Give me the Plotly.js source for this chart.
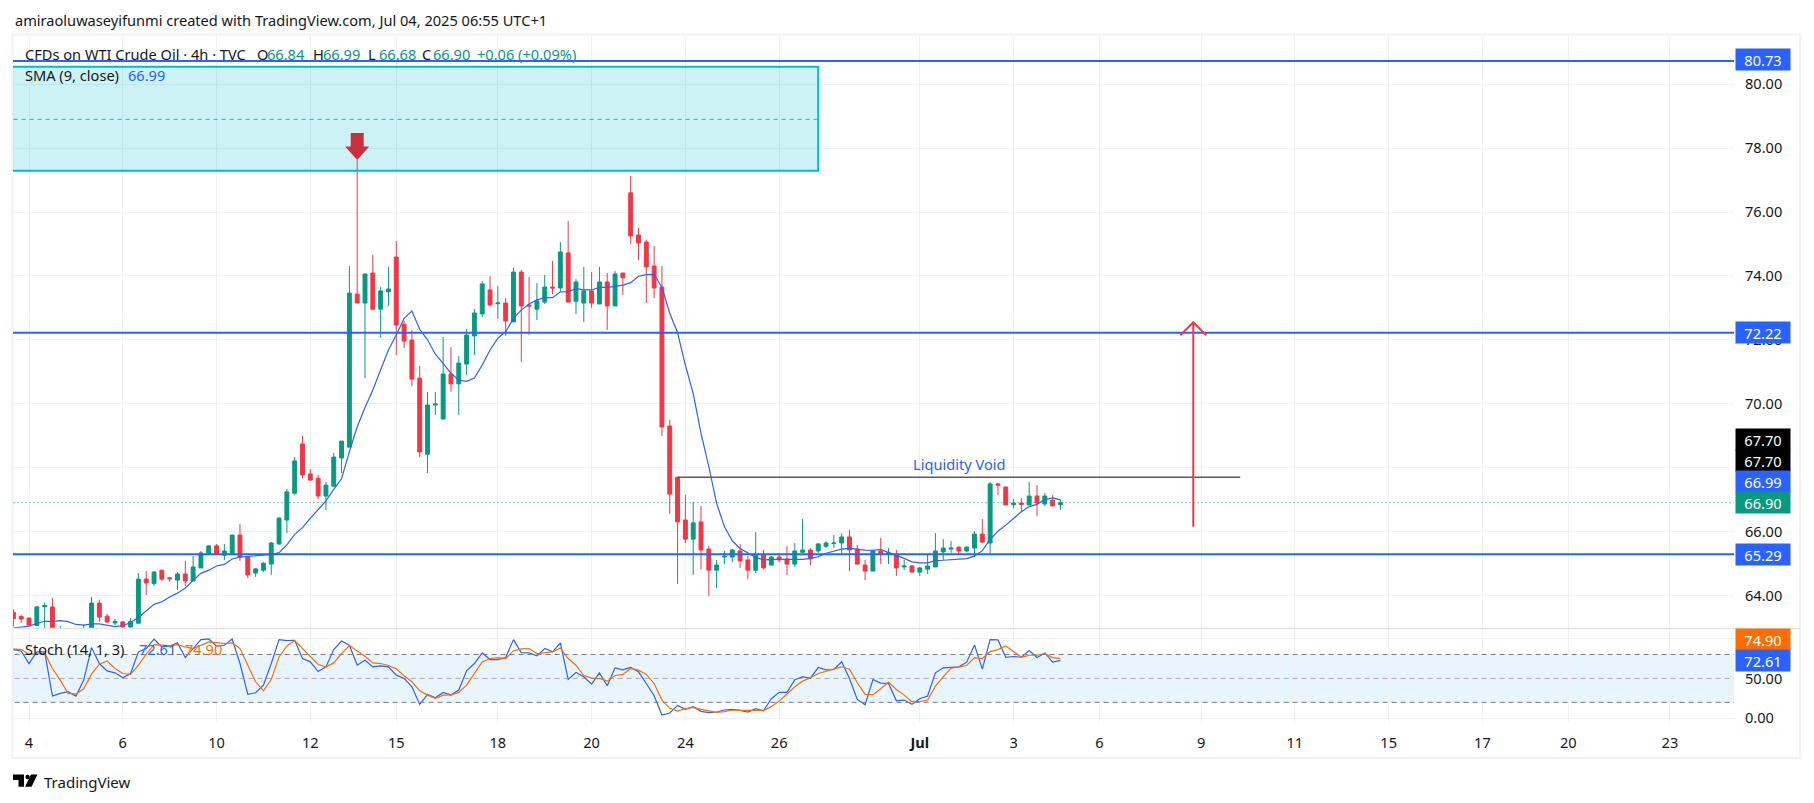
<!DOCTYPE html>
<html><head><meta charset="utf-8">
<script src="https://cdn.plot.ly/plotly-3.0.1.min.js"></script>
<style>html,body{margin:0;padding:0;background:#fff}#c{width:1814px;height:803px}</style></head>
<body><div id="c"></div>
<script>
const openP=[63.47,63.34,63.29,63.06,63.65,63.64,62.80,62.75,62.70,62.80,
62.85,63.76,63.35,63.14,63.17,63.01,63.13,64.51,64.37,64.79,
64.55,64.48,64.67,64.45,64.86,65.30,65.55,65.26,65.30,65.89,
65.20,64.70,64.79,64.98,65.61,66.36,67.20,68.74,67.80,67.67,
67.11,67.42,68.30,68.64,73.43,73.15,74.09,72.96,73.50,74.59,
72.49,71.99,70.80,68.42,69.96,69.52,70.93,70.62,71.24,72.12,
72.81,73.56,73.13,73.15,72.56,74.12,73.09,72.96,73.18,73.65,
73.62,74.72,73.21,73.15,73.53,73.12,73.81,73.06,74.09,76.60,
75.28,75.06,74.31,73.65,69.30,67.70,66.36,65.76,66.30,65.45,
64.79,65.20,65.20,65.39,65.11,64.79,65.26,64.95,65.20,65.14,
64.98,65.35,65.42,65.39,65.54,65.62,65.64,65.83,65.45,64.95,
64.76,65.39,65.29,65.29,64.89,64.92,64.73,64.82,64.89,65.36,
65.45,65.51,65.39,65.48,65.92,65.64,67.49,67.39,66.84,66.89,
66.83,67.11,66.86,66.98,66.84];
const highP=[63.57,63.39,63.31,63.67,63.78,63.91,63.04,62.85,62.85,63.09,
63.95,63.87,63.42,63.26,63.19,63.29,64.70,64.76,64.76,64.79,
64.57,64.73,65.08,65.23,65.39,65.58,65.61,65.61,65.89,66.23,
65.23,64.86,65.04,65.67,66.45,67.33,68.33,68.99,67.96,67.77,
67.55,68.46,68.83,74.31,77.63,74.06,74.66,73.65,74.28,75.09,
72.59,72.31,71.18,70.37,70.37,72.09,71.77,71.49,72.34,72.97,
73.84,74.00,73.68,73.31,74.25,74.19,73.97,73.78,74.03,74.47,
75.06,75.72,73.90,74.28,74.12,74.28,74.09,74.15,74.09,77.13,
75.50,75.13,74.94,74.31,69.49,67.70,67.14,66.92,66.80,65.55,
65.11,65.39,65.45,65.61,65.23,65.98,65.42,65.23,65.32,65.54,
65.64,66.39,65.48,65.64,65.70,65.89,65.95,66.05,65.58,65.11,
65.42,65.80,65.48,65.42,65.11,64.95,64.89,65.29,65.95,65.76,
65.70,65.54,65.54,66.01,66.39,67.55,67.52,67.42,67.02,67.05,
67.55,67.45,67.20,67.14,66.99];
const lowP=[63.02,63.14,63.05,63.04,62.90,62.70,62.70,62.60,62.55,62.70,
62.80,63.17,63.14,63.07,62.98,62.98,63.13,64.01,64.29,64.45,
64.42,64.17,64.29,64.45,64.86,65.30,65.26,65.11,65.30,65.08,
64.54,64.58,64.73,64.64,65.58,65.95,67.14,67.67,67.58,67.02,
66.67,67.42,67.83,68.64,73.15,70.80,72.93,72.06,73.06,71.52,
71.74,70.55,68.33,67.83,69.65,69.52,70.37,69.65,70.90,71.52,
72.71,73.03,72.65,72.12,72.56,71.31,72.15,72.62,73.12,73.43,
73.53,73.18,72.81,72.56,73.00,73.12,72.31,73.06,73.40,75.00,
74.50,73.15,73.31,68.99,66.55,64.36,65.64,64.64,64.82,63.98,
64.23,64.98,65.04,64.86,64.51,64.70,64.82,64.92,65.04,64.64,
64.89,65.33,64.95,65.33,65.48,65.48,65.29,64.76,64.98,64.48,
64.76,64.98,64.98,64.61,64.79,64.73,64.61,64.67,64.89,65.11,
65.33,65.29,65.36,65.20,65.64,65.33,67.14,66.83,66.73,66.61,
66.83,66.48,66.80,66.80,66.68];
const closeP=[63.27,63.26,63.07,63.64,63.68,62.85,62.90,62.70,62.80,62.90,
63.76,63.32,63.17,63.18,63.01,63.18,64.51,64.39,64.73,64.51,
64.52,64.67,64.45,64.89,65.33,65.55,65.30,65.39,65.89,65.20,
64.64,64.83,65.01,65.64,66.42,67.24,68.21,67.77,67.61,67.11,
67.45,68.33,68.83,73.46,73.15,74.06,72.96,73.53,73.59,72.46,
71.96,70.77,68.49,69.96,69.99,70.93,70.62,71.27,72.15,72.84,
73.75,73.09,73.15,72.59,74.12,73.06,73.06,73.22,73.65,73.62,
74.75,73.18,73.81,73.53,73.15,73.81,73.06,74.06,73.94,75.25,
75.03,74.28,73.62,69.27,67.17,66.30,65.76,66.27,65.42,64.79,
64.95,65.23,65.42,65.08,64.79,65.26,64.86,65.20,65.11,64.98,
65.39,65.42,65.14,65.61,65.64,65.64,65.83,65.42,64.98,64.76,
65.39,65.29,65.33,64.86,64.92,64.73,64.86,64.92,65.39,65.48,
65.48,65.39,65.51,65.92,65.67,67.49,67.45,66.83,66.89,66.85,
67.11,66.89,67.11,66.80,66.90];
const smaV=[62.98,63.02,63.04,63.12,63.19,63.19,63.21,63.18,63.09,63.07,
63.11,63.11,63.07,63.02,63.05,63.15,63.31,63.52,63.72,63.80,
63.95,64.07,64.23,64.47,64.69,64.79,64.92,64.97,65.14,65.20,
65.22,65.24,65.26,65.28,65.34,65.58,65.91,66.12,66.41,66.70,
66.96,67.32,67.65,68.50,69.28,69.88,70.43,71.06,71.68,72.15,
72.67,72.90,72.33,72.00,71.55,71.26,70.95,70.74,70.70,70.80,
71.21,71.68,72.05,72.25,72.67,72.93,73.12,73.25,73.32,73.32,
73.50,73.51,73.60,73.56,73.56,73.64,73.64,73.67,73.71,73.79,
73.99,74.04,74.05,73.64,72.83,72.22,71.21,70.32,69.07,68.03,
66.88,66.15,65.71,65.47,65.32,65.19,65.11,65.13,65.13,65.13,
65.13,65.13,65.16,65.21,65.32,65.39,65.45,65.47,65.44,65.42,
65.41,65.44,65.34,65.26,65.16,65.05,65.02,65.02,65.09,65.10,
65.11,65.12,65.15,65.23,65.40,65.75,66.01,66.20,66.41,66.62,
66.78,66.85,67.00,67.05,66.99];
const stochK=[86.2,84.5,68.7,83.3,83.3,27.9,31.2,33.3,27.9,47.9,
88.7,68.7,59.5,57.0,50.8,56.2,83.3,87.5,99.2,89.5,
90.4,94.6,76.2,87.5,98.7,99.5,90.4,91.6,99.5,68.7,
30.0,32.0,41.6,68.7,98.7,97.5,97.9,75.0,70.8,58.7,
64.5,86.2,97.0,91.6,66.6,72.9,64.5,65.8,64.5,54.1,
50.0,39.5,17.4,30.0,25.8,32.5,29.1,35.4,59.5,68.7,
82.0,73.7,73.7,76.2,98.7,82.4,82.0,78.3,87.5,83.3,
94.6,48.7,57.5,52.0,42.9,57.0,40.8,63.3,60.8,63.7,
58.3,43.7,28.3,4.1,6.6,16.2,11.2,14.6,8.7,7.1,
7.9,10.4,11.2,10.0,7.9,12.1,9.5,24.5,32.5,32.5,
48.3,52.0,50.4,63.7,60.8,61.2,70.8,50.0,23.7,17.0,
48.7,44.1,43.7,22.0,22.9,17.5,24.5,27.9,57.1,63.3,
63.7,64.6,70.4,92.1,61.6,98.7,98.3,76.6,77.5,76.6,
85.0,76.2,82.0,70.4,72.61];
const stochD=[87.0,86.2,80.4,80.4,82.0,62.5,47.9,31.2,30.4,37.1,
55.4,67.9,72.0,62.5,56.2,55.0,66.6,80.4,92.5,91.6,
91.2,92.5,89.5,87.5,91.6,95.8,95.0,93.7,94.6,87.5,
66.6,45.8,34.5,48.7,77.0,90.8,97.5,87.5,77.9,67.5,
64.5,69.5,81.2,91.2,84.5,77.9,69.5,68.7,66.2,62.0,
53.3,45.8,34.5,29.1,25.0,29.1,29.5,32.5,41.6,55.4,
70.8,75.0,76.2,75.0,84.5,87.0,87.5,81.2,82.4,83.3,
88.3,75.0,66.6,53.7,50.4,50.0,46.6,53.7,55.0,62.5,
60.4,55.0,43.7,22.9,12.5,9.1,12.0,13.7,11.2,9.1,
7.5,8.3,10.4,10.0,10.0,10.0,10.0,14.6,21.6,30.4,
39.6,46.6,50.8,56.2,59.1,62.5,64.6,61.6,44.6,30.0,
29.6,37.0,45.4,36.2,29.1,20.8,20.8,22.9,40.4,52.0,
62.9,64.6,66.2,76.2,75.0,83.7,86.2,90.8,83.3,76.6,
79.1,79.1,81.2,76.2,74.9];
const barIdx=openP.map((_,i)=>i);
const tickBars=[2,14,26,38,49,62,74,86,98,116,128,139,152,164,176,188,199,212];
const tickLabels=['4','6','10','12','15','18','20','24','26','<b>Jul</b>','3','6','9','11','15','17','20','23'];
const priceTicks=[64,66,68,70,72,74,76,78,80];
const priceLabels=['64.00','66.00','','70.00','72.00','74.00','76.00','78.00','80.00'];
const stochTicks=[0,50,100];
const stochLabels=['0.00','50.00',''];
const levels=[80.73,72.22,65.29];
const lastPrice=66.90;
const voidLevel=67.70, voidFrom=85, voidTo=157;
const zoneTop=80.55, zoneBottom=77.29, zoneMid=78.90, zoneEnd=103;
const downArrowBar=44, downArrowTip=77.63, downArrowHead=78.05, downArrowTop=78.475;
const upArrowBar=151, upArrowFrom=66.15, upArrowTip=72.55, upArrowWing=72.14;
const BLUE='#2962ff',GREEN='#089981',RED='#f23645',ORANGE='#ff6d00',TXT='#131722',GRID='#f0f1f4';
const FONT='"Noto Sans", sans-serif';
const FS=14.6;
const L=13,R=1734,T=35,B=723;
const px=x=>(x-L)/(R-L), py=y=>(B-y)/(B-T);
const shapes=[];
const ln=(x0,x1,y,color,w,dash,yref)=>shapes.push({type:'line',xref:'x',yref:yref||'y',x0,x1,y0:y,y1:y,line:{color,width:w,dash:dash||'solid'}});
shapes.push({type:'rect',xref:'paper',yref:'paper',x0:px(12.5),x1:px(1800),y0:py(34.5),y1:py(758),line:{color:'#f1f2f4',width:2},layer:'below'});
shapes.push({type:'line',xref:'paper',yref:'paper',x0:px(13),x1:px(1800),y0:py(628.5),y1:py(628.5),line:{color:'#e0e3eb',width:1.5}});
shapes.push({type:'rect',xref:'x',yref:'y',x0:-1,x1:zoneEnd,y0:zoneBottom,y1:zoneTop,fillcolor:'rgba(0,188,212,0.2)',line:{color:'#00bcd4',width:2}});
ln(-1,zoneEnd,zoneMid,'#00bcd4',1,'4px,4px');
shapes.push({type:'rect',xref:'x',yref:'y2',x0:-1,x1:221,y0:20,y1:80,fillcolor:'rgba(33,150,243,0.1)',line:{width:0},layer:'below'});
ln(-1,221,80,'#787b86',1,'5px,4px','y2');
ln(-1,221,50,'rgba(120,123,134,0.6)',1,'5px,4px','y2');
ln(-1,221,20,'#787b86',1,'5px,4px','y2');
ln(-1,221,lastPrice,GREEN,1,'1px,3px');
levels.forEach(v=>ln(-1,221,v,BLUE,2));
ln(voidFrom,voidTo,voidLevel,'#5a5a5a',1.6);
const a=downArrowBar;
shapes.push({type:'path',xref:'x',yref:'y',path:`M${a-0.83},${downArrowTop} L${a+0.83},${downArrowTop} L${a+0.83},${downArrowHead} L${a+1.54},${downArrowHead} L${a},${downArrowTip} L${a-1.54},${downArrowHead} L${a-0.83},${downArrowHead} Z`,fillcolor:'#cc2f3c',line:{width:0}});
const u=upArrowBar;
shapes.push({type:'path',xref:'x',yref:'y',path:`M${u},${upArrowFrom} L${u},${upArrowTip} M${u-1.66},${upArrowWing} L${u},${upArrowTip} L${u+1.66},${upArrowWing}`,line:{color:RED,width:2}});
const P=(x,y)=>`${px(x)},${py(y)}`;
shapes.push({type:'path',xref:'paper',yref:'paper',path:`M${P(13,774.5)} L${P(24,774.5)} L${P(24,786.7)} L${P(18.5,786.7)} L${P(18.5,780)} L${P(13,780)} Z`,fillcolor:'#000',line:{width:0}});
shapes.push({type:'path',xref:'paper',yref:'paper',path:`M${P(37.5,774.5)} L${P(31.5,786.7)} L${P(25,786.7)} L${P(31,774.5)} Z`,fillcolor:'#000',line:{width:0}});
shapes.push({type:'circle',xref:'paper',yref:'paper',x0:px(25.4),x1:px(29.8),y0:py(779.2),y1:py(774.8),fillcolor:'#000',line:{width:0}});

const ann=[];
const label=(x,y,text,color,size)=>ann.push({xref:'paper',yref:'paper',x:px(x),y:py(y),xanchor:'left',yanchor:'middle',text,showarrow:false,font:{family:FONT,size:size||FS,color:color||TXT}});
label(13,20,'amiraoluwaseyifunmi created with TradingView.com, Jul 04, 2025 06:55 UTC+1');
label(23,54,'CFDs on WTI Crude Oil · 4h · TVC');
[[254.5,'O','66.84'],[310.7,'H','66.99'],[366,'L','66.68'],[420,'C','66.90']].forEach(r=>{
  label(r[0],54,r[1]);label(r[0]+10.5,54,r[2],GREEN);
});
label(475,54,'+0.06 (+0.09%)',GREEN);
label(23,75,'SMA (9, close)');label(126,75,'66.99',BLUE);
label(23,649,'Stoch (14, 1, 3)');label(136.6,649,'72.61',BLUE);label(183,649,'74.90',ORANGE);
label(41.5,781.5,'TradingView','#131722',15);
ann.push({xref:'x',yref:'y',x:(voidFrom+voidTo)/2,y:voidLevel,yshift:13.5,xanchor:'center',yanchor:'middle',text:'Liquidity Void',showarrow:false,font:{family:FONT,size:FS,color:BLUE}});
const badge=(yref,v,txt,bg,shift)=>ann.push({xref:'paper',yref,x:1,xshift:1,y:v,yshift:shift,xanchor:'left',yanchor:'middle',width:54,height:21,borderpad:0,bgcolor:bg,text:txt,align:'center',showarrow:false,font:{family:FONT,size:FS,color:'#fff'}});
badge('y',80.73,'80.73',BLUE,1);
badge('y',72.22,'72.22',BLUE,0);
badge('y',67.70,'67.70','#000',37.6);
badge('y',67.70,'67.70','#000',16.8);
badge('y',66.99,'66.99',BLUE,18.2);
badge('y',66.90,'66.90',GREEN,0);
badge('y',65.29,'65.29',BLUE,0);
badge('y2',74.90,'74.90',ORANGE,18.9);
badge('y2',72.61,'72.61',BLUE,0);

const traces=[
 {type:'candlestick',x:barIdx,open:openP,high:highP,low:lowP,close:closeP,xaxis:'x',yaxis:'y',whiskerwidth:0,
  increasing:{line:{color:GREEN,width:1},fillcolor:GREEN},decreasing:{line:{color:RED,width:1},fillcolor:RED},hoverinfo:'skip'},
 {type:'scatter',mode:'lines',x:barIdx,y:smaV,xaxis:'x',yaxis:'y',line:{color:BLUE,width:1.2},hoverinfo:'skip'},
 {type:'scatter',mode:'lines',x:barIdx,y:stochK,xaxis:'x',yaxis:'y2',line:{color:BLUE,width:1.2},hoverinfo:'skip'},
 {type:'scatter',mode:'lines',x:barIdx,y:stochD,xaxis:'x',yaxis:'y2',line:{color:ORANGE,width:1.2},hoverinfo:'skip'}
];
const tf={family:FONT,size:FS,color:TXT};
const layout={width:1814,height:803,margin:{l:L,r:1814-R,t:T,b:803-B,pad:0},paper_bgcolor:'#fff',plot_bgcolor:'#fff',showlegend:false,
 boxgap:0.5,boxgroupgap:0,dragmode:false,
 font:{family:FONT,size:FS,color:TXT},
 xaxis:{domain:[0,1],anchor:'y2',range:[-0.05,220.2],tickmode:'array',tickvals:tickBars,ticktext:tickLabels,showgrid:true,gridcolor:GRID,gridwidth:1,zeroline:false,showline:false,ticks:'',ticklabelstandoff:9,rangeslider:{visible:false},tickangle:0,tickfont:tf},
 yaxis:{domain:[0.1381,1],anchor:'x',side:'right',range:[62.98,81.54],tickmode:'array',tickvals:priceTicks,ticktext:priceLabels,showgrid:true,gridcolor:GRID,zeroline:false,showline:false,ticks:'',ticklabelstandoff:10,tickfont:tf},
 yaxis2:{domain:[0,0.1366],anchor:'x',side:'right',range:[-5.9,112],tickmode:'array',tickvals:stochTicks,ticktext:stochLabels,showgrid:true,gridcolor:GRID,zeroline:false,showline:false,ticks:'',ticklabelstandoff:10,tickfont:tf},
 shapes,annotations:ann};
Plotly.newPlot('c',traces,layout,{displayModeBar:false,staticPlot:true});
</script></body></html>
